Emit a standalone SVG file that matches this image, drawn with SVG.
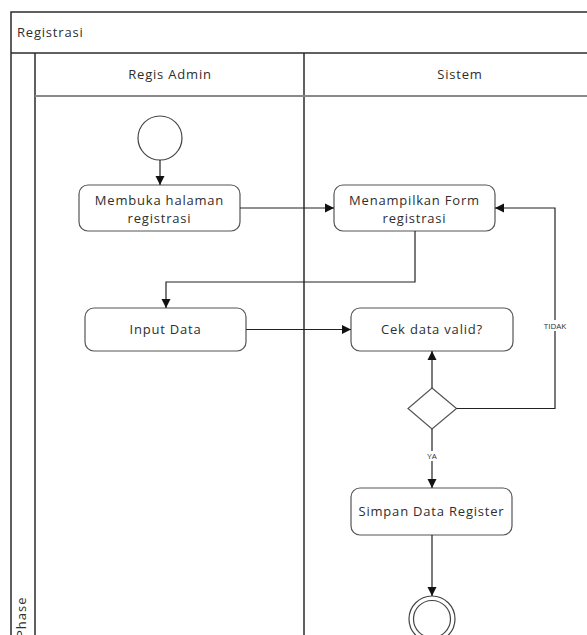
<svg xmlns="http://www.w3.org/2000/svg" width="587" height="635" viewBox="0 0 587 635">
<style>
.frame{fill:none;stroke:#2b2b2b;stroke-width:1.5}
.sub{fill:none;stroke:#8a8a8a;stroke-width:1.8}
.box{fill:#fff;stroke:#555;stroke-width:1.2}
.t{font-family:"Open Sans","Liberation Sans",sans-serif;font-size:13px;fill:#2e2e2e;letter-spacing:0.8px}
.c{text-anchor:middle}
.lbl{font-family:"Open Sans","Liberation Sans",sans-serif;font-size:8px;fill:#333;text-anchor:middle}
.con{fill:none;stroke:#222;stroke-width:1.2}
</style>
<defs>
<marker id="ah" markerWidth="10" markerHeight="10" refX="9" refY="5" orient="auto" markerUnits="userSpaceOnUse">
<path d="M0,0.5 L9,5 L0,9.5 Z" fill="#111"/>
</marker>
</defs>
<rect width="587" height="635" fill="#fff"/>
<g id="pool">
<path class="frame" d="M11,640 V12 H600"/>
<line class="frame" x1="11" y1="53" x2="600" y2="53"/>
<line class="frame" x1="35" y1="53" x2="35" y2="640"/>
<line class="frame" x1="304" y1="53" x2="304" y2="640"/>
<line class="sub" x1="35" y1="96" x2="600" y2="96"/>
<text class="t" x="17" y="37">Registrasi</text>
<text class="t c" x="170" y="79">Regis Admin</text>
<text class="t c" x="460" y="79">Sistem</text>
<text class="t" transform="translate(26,638) rotate(-90)" style="letter-spacing:1px">Phase</text>
</g>
<g id="start"><circle cx="160" cy="138" r="22" fill="#fff" stroke="#444" stroke-width="1.2"/></g>
<g id="membuka">
<rect class="box" x="79" y="185" width="161" height="46" rx="9"/>
<text class="t c" x="159.5" y="204.5">Membuka halaman</text>
<text class="t c" x="159.5" y="222.5">registrasi</text>
</g>
<g id="menampilkan">
<rect class="box" x="334" y="185" width="161" height="46" rx="9"/>
<text class="t c" x="414.5" y="204.5">Menampilkan Form</text>
<text class="t c" x="414.5" y="222.5">registrasi</text>
</g>
<g id="input">
<rect class="box" x="85" y="308" width="161" height="43" rx="9"/>
<text class="t c" x="165.5" y="334">Input Data</text>
</g>
<g id="cek">
<rect class="box" x="351" y="308" width="162" height="43" rx="9"/>
<text class="t c" x="432" y="334">Cek data valid?</text>
</g>
<g id="decision"><polygon points="432,388 456.5,408.5 432,429 408,408.5" fill="#fff" stroke="#555" stroke-width="1.2"/></g>
<g id="simpan">
<rect class="box" x="351" y="488" width="161" height="47" rx="9"/>
<text class="t c" x="431.5" y="516">Simpan Data Register</text>
</g>
<g id="end">
<circle cx="432" cy="619" r="23" fill="#fff" stroke="#444" stroke-width="1.2"/>
<circle cx="432" cy="619" r="18.5" fill="none" stroke="#444" stroke-width="1.2"/>
</g>
<g id="connectors">
<line class="con" x1="160" y1="160" x2="160" y2="185" marker-end="url(#ah)"/>
<line class="con" x1="240" y1="208" x2="334" y2="208" marker-end="url(#ah)"/>
<polyline class="con" points="415,231 415,282 166,282 166,308" marker-end="url(#ah)"/>
<line class="con" x1="246" y1="329.5" x2="351" y2="329.5" marker-end="url(#ah)"/>
<line class="con" x1="432" y1="388" x2="432" y2="351" marker-end="url(#ah)"/>
<polyline class="con" points="456.5,408.5 555,408.5 555,208 495,208" marker-end="url(#ah)"/>
<rect x="541" y="320" width="29" height="11" fill="#fff"/>
<text class="lbl" x="555" y="328.5">TIDAK</text>
<line class="con" x1="432" y1="429" x2="432" y2="488" marker-end="url(#ah)"/>
<rect x="424" y="451" width="16" height="10" fill="#fff"/>
<text class="lbl" x="432" y="459">YA</text>
<line class="con" x1="432" y1="535" x2="432" y2="596" marker-end="url(#ah)"/>
</g>
</svg>
